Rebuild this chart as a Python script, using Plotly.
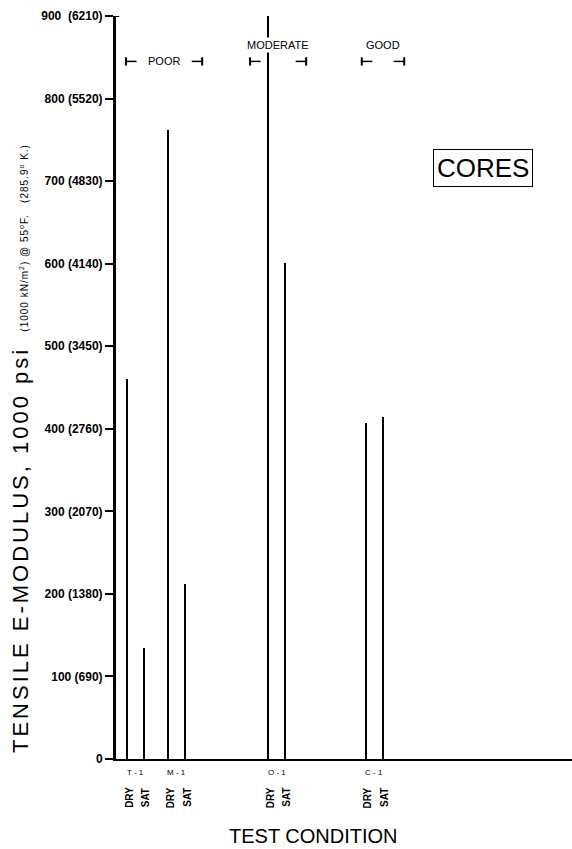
import plotly.graph_objects as go

# ---- data ----
groups = ["T-1", "M-1", "O-1", "C-1"]
group_pos = [4.25, 13.35, 35.25, 56.6]          # position of each core on the test-condition axis
dry_values = [460, 762, 903, 407]               # 1000 psi
sat_values = [135, 212, 601, 414]               # 1000 psi
y_tick_vals = [0, 100, 200, 300, 400, 500, 600, 700, 800, 900]
y_tick_text = ["0", "100 (690)", "200 (1380)", "300 (2070)", "400 (2760)", "500 (3450)",
               "600 (4140)", "700 (4830)", "800 (5520)", "900  (6210)"]
rating_names = ["POOR", "MODERATE", "GOOD"]
rating_start = [2.2, 29.4, 53.9]
rating_end = [18.9, 41.7, 63.2]

PAIR_OFFSET = 1.85
FONT = "Liberation Sans, Arial, sans-serif"

dry_x = [g - PAIR_OFFSET for g in group_pos]
sat_x = [g + PAIR_OFFSET for g in group_pos]

fig = go.Figure()
fig.add_trace(go.Bar(x=dry_x, y=dry_values, width=0.45, marker=dict(color="black", line=dict(width=0)),
                     cliponaxis=False, showlegend=False, name="DRY"))
fig.add_trace(go.Bar(x=sat_x, y=sat_values, width=0.45, marker=dict(color="black", line=dict(width=0)),
                     cliponaxis=False, showlegend=False, name="SAT"))

annotations = []
shapes = []


def ann(**kw):
    kw.setdefault("showarrow", False)
    kw.setdefault("xanchor", "center")
    kw.setdefault("yanchor", "middle")
    annotations.append(kw)


# group labels and DRY/SAT labels
for g, xd, xs in zip(groups, dry_x, sat_x):
    ann(x=(xd + xs) / 2, y=-0.0188, xref="x", yref="paper", text=g.replace("-", " - "),
        font=dict(size=8, family=FONT, color="black"))
    for xx, t in ((xd + 0.5, "DRY"), (xs + 0.4, "SAT")):
        ann(x=xx, y=-0.052, xref="x", yref="paper", text="<b>%s</b>" % t, textangle=-90,
            font=dict(size=10, family=FONT, color="black"))

# rating brackets
CAP = 5.0
SEG = 2.3
Y_BR = 845
for name, x0, x1 in zip(rating_names, rating_start, rating_end):
    for xa, xb in ((x0, x0 + SEG), (x1 - SEG, x1)):
        shapes.append(dict(type="line", xref="x", yref="y", x0=xa, x1=xb, y0=Y_BR, y1=Y_BR,
                           line=dict(color="black", width=1.5)))
    for xc in (x0, x1):
        shapes.append(dict(type="line", xref="x", yref="y", x0=xc, x1=xc, y0=Y_BR - CAP, y1=Y_BR + CAP,
                           line=dict(color="black", width=2)))
    if name == "POOR":
        ann(x=(x0 + x1) / 2, y=Y_BR, xref="x", yref="y", text=name,
            font=dict(size=11, family=FONT, color="black"))
    else:
        ann(x=(x0 + x1) / 2, y=865, xref="x", yref="y", text=name, bgcolor="white", borderpad=1,
            font=dict(size=11, family=FONT, color="black"))

# cap at top of y axis
shapes.append(dict(type="line", xref="paper", yref="y", x0=-0.013, x1=0.007, y0=900, y1=900,
                   line=dict(color="black", width=2)))

# axis titles
ann(x=-0.2105, y=0.4172, xref="paper", yref="paper", textangle=-90,
    text=("<span style='letter-spacing:3px'>TENSILE E-MODULUS, 1000 psi</span>"
          "<span style='font-size:10px;letter-spacing:1px'>    (1000 kN/m<sup>2</sup>) @ 55<sup>o</sup>F.   (285.9<sup>o</sup> K.)</span>"),
    font=dict(size=22, family=FONT, color="black"))
ann(x=0.434, y=-0.1036, xref="paper", yref="paper", text="TEST CONDITION",
    font=dict(size=20, family=FONT, color="black"))

# CORES box
ann(x=0.805, y=0.796, xref="paper", yref="paper", text="CORES",
    bordercolor="black", borderwidth=1, borderpad=3, bgcolor="white",
    font=dict(size=26, family=FONT, color="black"))

fig.update_layout(
    width=572, height=849,
    margin=dict(l=116, r=0, t=16, b=90),
    paper_bgcolor="white", plot_bgcolor="white",
    font=dict(family=FONT, color="black"),
    showlegend=False,
    bargap=0,
    xaxis=dict(range=[0, 100], showline=True, linecolor="black", linewidth=2, showticklabels=False,
               ticks="", showgrid=False, zeroline=False, fixedrange=True),
    yaxis=dict(range=[0, 900], tickvals=y_tick_vals, ticktext=y_tick_text, ticks="outside",
               ticklen=8, tickwidth=2, tickcolor="black", showline=True, linecolor="black", linewidth=3,
               showgrid=False, zeroline=False, fixedrange=True,
               tickfont=dict(size=12, family=FONT, color="black", weight="bold")),
    annotations=annotations,
    shapes=shapes,
)

fig.write_html("out.html", config={"displayModeBar": False},
               post_script="document.body.style.margin='0';")
